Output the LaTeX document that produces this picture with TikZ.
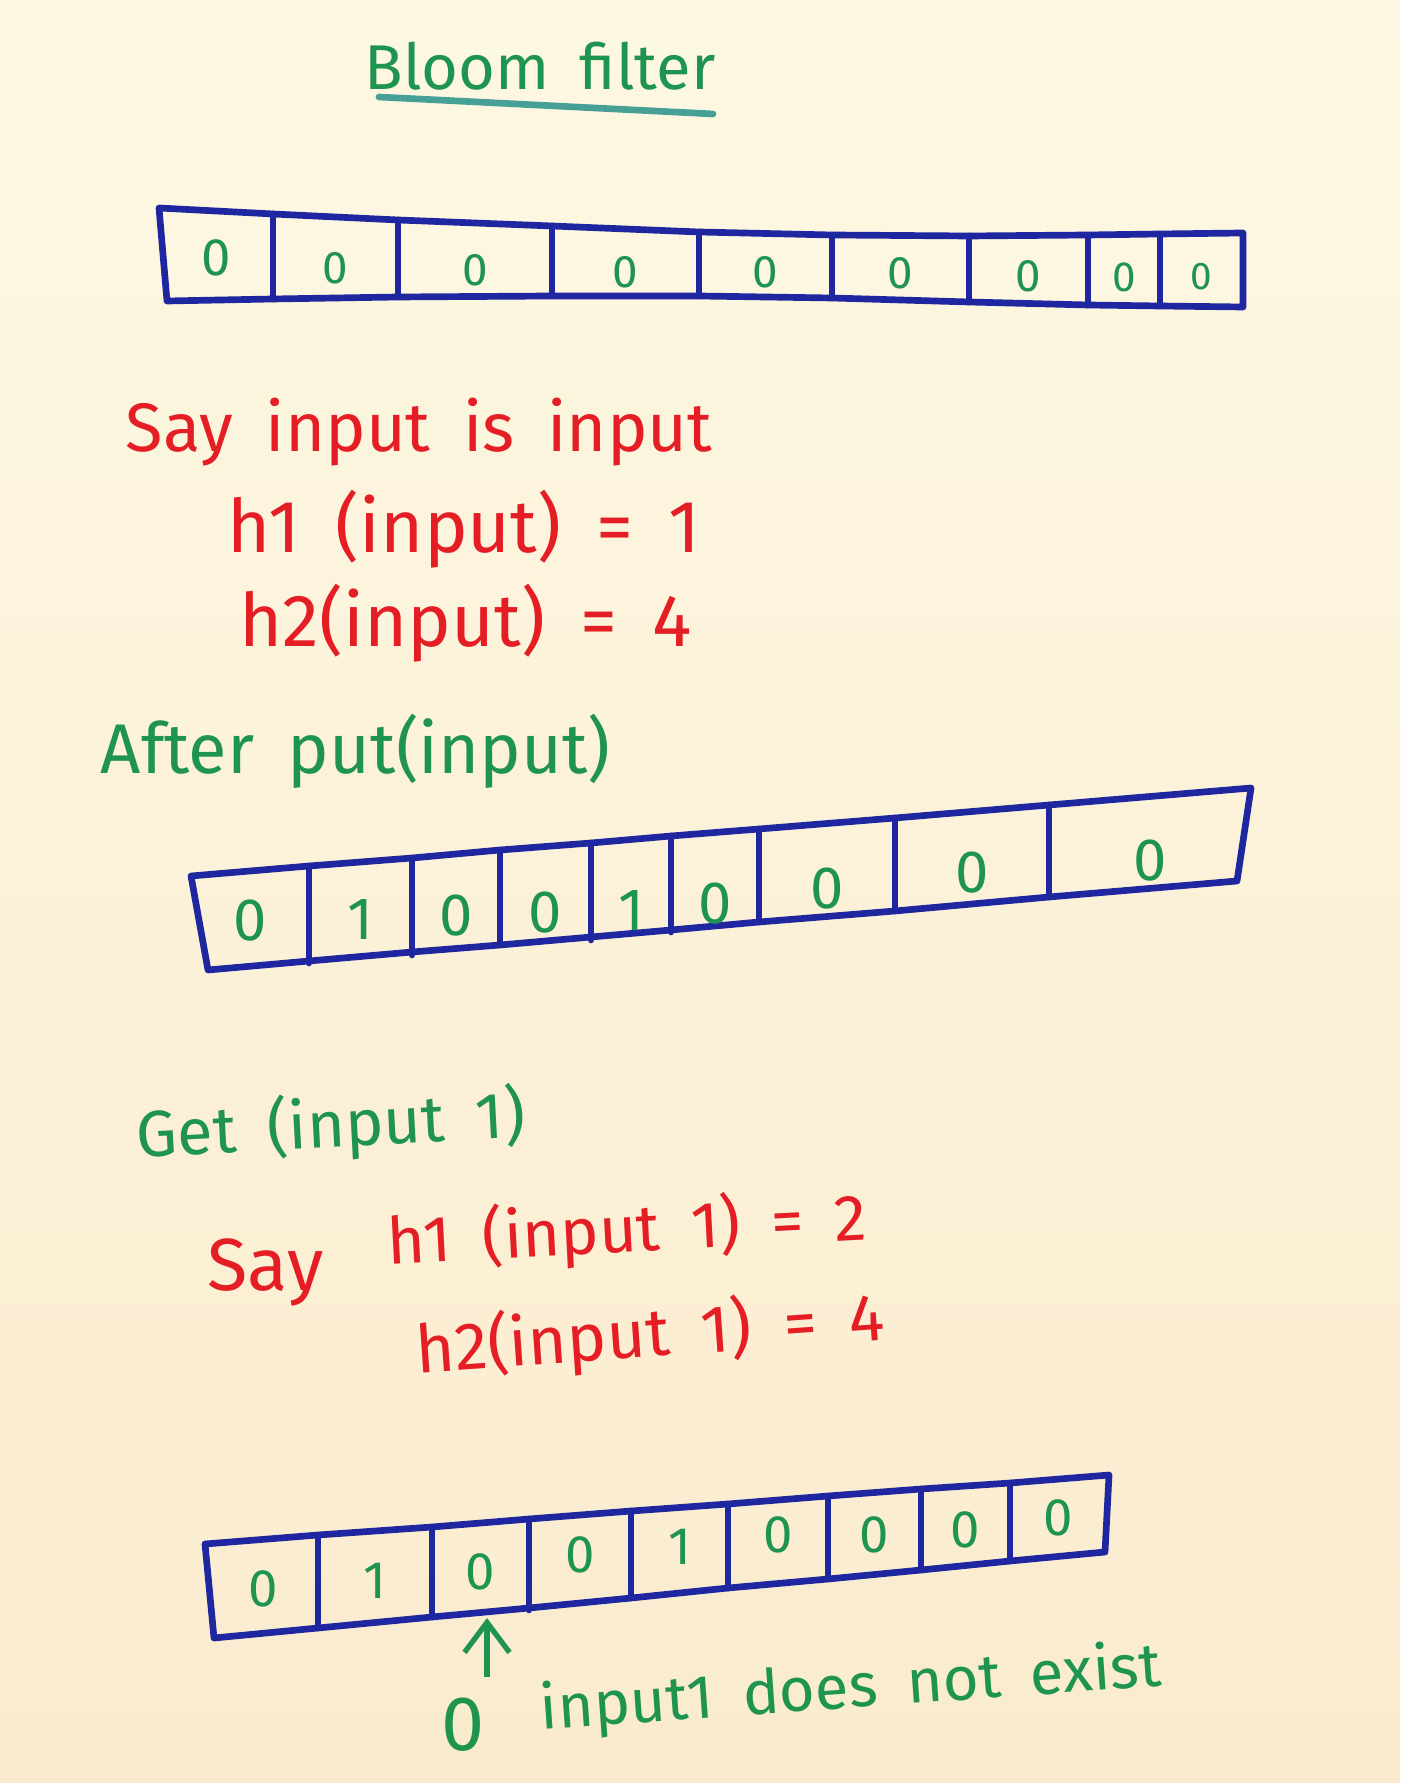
\documentclass[tikz,border=0pt]{standalone}
\usepackage{fontspec}
\setmainfont{Fira Sans}[WordSpace=1.8]
\usetikzlibrary{arrows.meta}

\tikzset{
    ink/.style={line width=1.9pt, line join=round, line cap=round},
    box/.style={ink, draw=bblue},
    bit/.style={text=ggreen, inner sep=0pt},
    redtext/.style={text=rred, anchor=west, inner sep=0pt, font=\fontsize{21}{24}\selectfont},
    greentext/.style={text=ggreen, anchor=west, inner sep=0pt, font=\fontsize{21}{24}\selectfont},
    pointer/.style={ggreen, line width=1.5pt, -{Straight Barb[length=3mm,width=4.5mm]}}
}

\begin{document}
\begin{tikzpicture}[x=0.01cm,y=-0.01cm]
        %colours
        \definecolor{paper}{RGB}{253,248,227}
        \definecolor{paperlow}{RGB}{250,235,206}
        \definecolor{bblue}{RGB}{30,38,160}
        \definecolor{ggreen}{RGB}{30,148,80}
        \definecolor{rred}{RGB}{228,30,36}
        \definecolor{uline}{RGB}{70,160,150}

        % paper
        \useasboundingbox (0,0) rectangle (1400,1783);
        \shade[top color=paper, bottom color=paperlow] (0,0) rectangle (1400,1783);

        % title
        \node[text=ggreen, font=\fontsize{18}{20}\selectfont] (title) at (540,66) {Bloom filter};
        \draw[ink, uline] (379,97) -- (713,114);

        % empty filter
        \draw[box] (159,208) -- (273,214) -- (398,220) -- (552,226) -- (699,232) -- (832,235)
            -- (969,236) -- (1088,235) -- (1160,234) -- (1243,233) -- (1243,307) -- (1160,306)
            -- (1088,305) -- (969,302) -- (832,298) -- (699,296) -- (552,296) -- (398,297)
            -- (273,299) -- (167,301) -- cycle;
        \foreach \x/\yt/\yb in {273/214/299, 398/220/297, 552/226/296, 699/232/296,
                                832/235/298, 969/236/302, 1088/235/305, 1160/234/306}
        \draw[box] (\x,\yt) -- (\x,\yb);
        \foreach \x/\y/\s [count=\i] in {216/258/15, 335/268/13, 475/270/13, 625/272/13, 765/272/13,
                                          900/273/13, 1028/276/13, 1124/277/12, 1201/277/11}
        \node[bit, font=\fontsize{\s}{\s}\selectfont] (e\i) at (\x,\y) {0};

        % hashes of input
        \node[redtext, font=\fontsize{19.5}{22}\selectfont] (say) at (125,432) {Say input is input};
        \node[redtext] (hone) at (227,529) {h1 (input) = 1};
        \node[redtext] (htwo) at (239,623) {h2(input) = 4};

        \node[greentext, font=\fontsize{20}{22}\selectfont] (after) at (100,751) {After put(input)};

        % filter after put
        \draw[box] (191,876) -- (309,866) -- (412,858) -- (500,850) -- (591,843) -- (671,836)
            -- (759,829) -- (895,818) -- (1049,805) -- (1251,788) -- (1237,881) -- (1049,897)
            -- (895,911) -- (759,922) -- (671,930) -- (591,937) -- (500,945) -- (412,952)
            -- (309,961) -- (208,970) -- cycle;
        \foreach \x/\yt/\yb in {309/866/963, 412/858/955, 500/850/945, 591/843/940,
                                671/836/932, 759/829/922, 895/818/911, 1049/805/897}
        \draw[box] (\x,\yt) -- (\x,\yb);
        \foreach \x/\y/\v [count=\i] in {250/921/0, 360/919/1, 456/916/0, 545/913/0, 631/910/1,
                                          715/904/0, 827/889/0, 972/873/0, 1150/861/0}
        \node[bit, font=\fontsize{17}{17}\selectfont] (p\i) at (\x,\y) {\v};

        % lookup
        \node[greentext, rotate=3, font=\fontsize{18.5}{22}\selectfont] (get) at (136,1137) {Get (input 1)};
        \node[redtext] (sayget) at (207,1272) {Say};
        \node[redtext, rotate=3, font=\fontsize{18.5}{22}\selectfont] (honeget) at (387,1244) {h1 (input 1) = 2};
        \node[redtext, rotate=4, font=\fontsize{19}{22}\selectfont] (htwoget) at (415,1352) {h2(input 1) = 4};

        % filter on get
        \draw[box] (205,1544) -- (318,1535) -- (432,1527) -- (529,1519) -- (631,1511) -- (728,1504)
            -- (828,1496) -- (921,1489) -- (1010,1483) -- (1109,1475) -- (1105,1552) -- (1010,1561)
            -- (921,1570) -- (828,1579) -- (728,1588) -- (631,1598) -- (529,1608) -- (432,1617)
            -- (318,1628) -- (214,1638) -- cycle;
        \foreach \x/\yt/\yb in {318/1535/1628, 432/1527/1617, 529/1519/1610, 631/1511/1598,
                                728/1504/1588, 828/1496/1579, 921/1489/1570, 1010/1483/1561}
        \draw[box] (\x,\yt) -- (\x,\yb);
        \foreach \x/\y/\v [count=\i] in {263/1589/0, 375/1581/1, 480/1572/0, 580/1555/0, 680/1547/1,
                                          778/1535/0, 874/1535/0, 965/1530/0, 1058/1518/0}
        \node[bit, font=\fontsize{15}{15}\selectfont] (g\i) at (\x,\y) {\v};

        % answer
        \coordinate (tip) at (487,1618);
        \node[bit, font=\fontsize{22}{22}\selectfont] (zero) at (463,1725) {0};
        \node[greentext, rotate=4, font=\fontsize{17.5}{20}\selectfont] (note) at (540,1712) {input1 does not exist};
        \draw[pointer] ([shift={(24,-21)}]zero.north) -- (tip);
\end{tikzpicture}
\end{document}
